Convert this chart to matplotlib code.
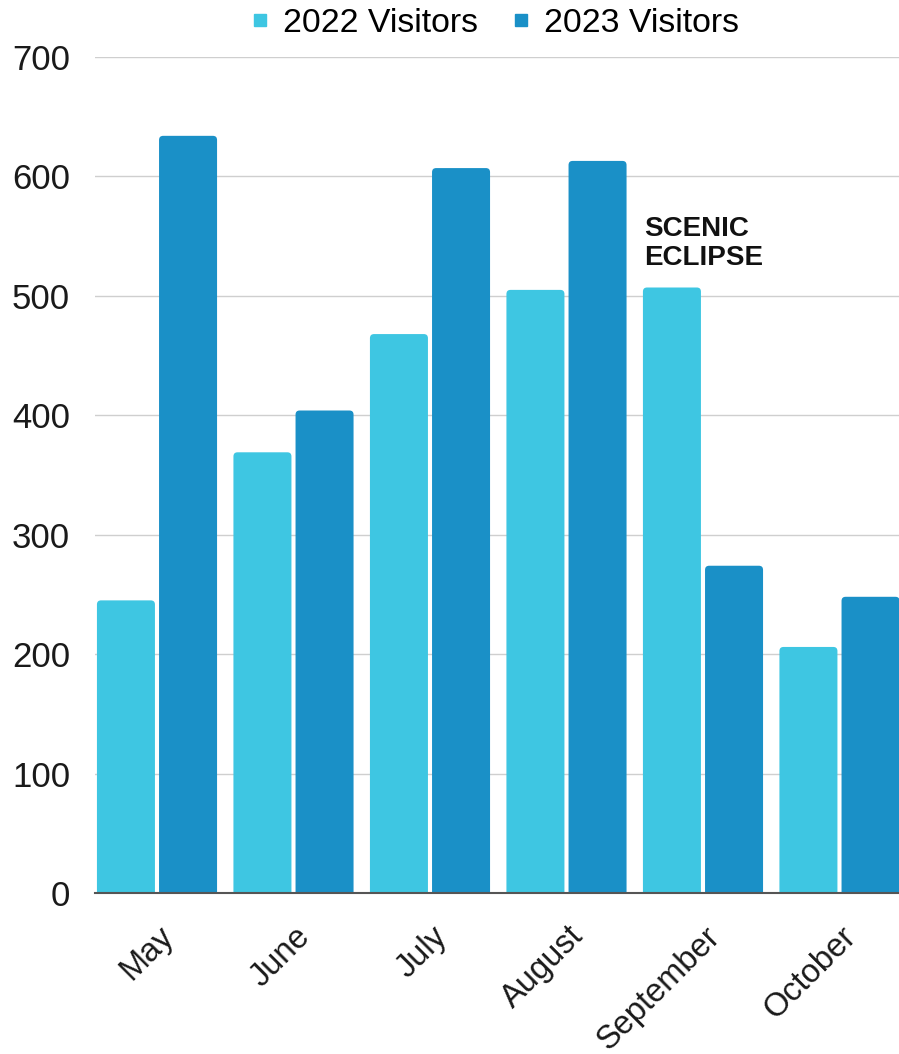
import matplotlib.pyplot as plt
import matplotlib.transforms as mtransforms
from matplotlib.lines import Line2D
from matplotlib.patches import FancyBboxPatch
import numpy as np

months = ["May", "June", "July", "August", "September", "October"]
visitors_2022 = [245, 369, 468, 505, 507, 206]
visitors_2023 = [634, 404, 607, 613, 274, 248]
series_labels = ["2022 Visitors", "2023 Visitors"]
y_ticks = [0, 100, 200, 300, 400, 500, 600, 700]

color_2022 = "#3ec6e2"
color_2023 = "#1a90c7"

plt.rcParams['font.family'] = ['Liberation Sans', 'DejaVu Sans']

fig = plt.figure(figsize=(8.99, 10.54), dpi=100)
ax = fig.add_axes([0.1057, 0.1528, 0.8943, 0.7931])

x = np.arange(len(months))
w = 0.425
gap = 0.03
bars_a = ax.bar(x - (w + gap) / 2, visitors_2022, width=w, color=color_2022, zorder=2)
bars_b = ax.bar(x + (w + gap) / 2, visitors_2023, width=w, color=color_2023, zorder=2)

# swap plain rectangles for ones with slightly rounded tops
for bars in (bars_a, bars_b):
    for r in bars:
        r.set_visible(False)
        p = FancyBboxPatch((r.get_x(), -10), r.get_width(), r.get_height() + 10,
                           boxstyle="round,pad=0,rounding_size=0.03",
                           mutation_aspect=115, facecolor=r.get_facecolor(),
                           edgecolor='none', zorder=2)
        ax.add_patch(p)

ax.set_xlim(-0.454, 5.436)
ax.set_ylim(0, 700)
ax.set_yticks(y_ticks)
ax.set_yticklabels([str(t) for t in y_ticks], fontsize=25, color="#1a1a1a")
ax.tick_params(axis='y', length=0, pad=18)
ax.yaxis.grid(True, color="#cfcfcf", linewidth=1.0, zorder=0)
ax.set_axisbelow(True)

ax.set_xticks(x)
ax.set_xticklabels(months, fontsize=23.5, rotation=45, ha='right',
                   rotation_mode='anchor', color="#1a1a1a")
ax.tick_params(axis='x', length=0, pad=20)
offset = mtransforms.ScaledTranslation(1 / 72, 0, fig.dpi_scale_trans)
for lbl in ax.get_xticklabels():
    lbl.set_transform(lbl.get_transform() + offset)

for s in ["top", "right", "left"]:
    ax.spines[s].set_visible(False)
ax.spines["bottom"].set_color("#555555")
ax.spines["bottom"].set_linewidth(1.5)
ax.spines["bottom"].set_zorder(3)

ax.text(3.57, 544, "SCENIC\nECLIPSE", fontsize=20, fontweight='bold',
        color="#111111", ha='left', va='center', linespacing=1.15)

handles = [Line2D([], [], marker='s', linestyle='none', markersize=8, color=color_2022),
           Line2D([], [], marker='s', linestyle='none', markersize=8, color=color_2023)]
fig.legend(handles, series_labels, loc='center', bbox_to_anchor=(0.548, 0.978),
           ncol=2, frameon=False, fontsize=24.4, handletextpad=0.3,
           columnspacing=0.85, handlelength=0.8)

fig.savefig("out.png", dpi=100)
